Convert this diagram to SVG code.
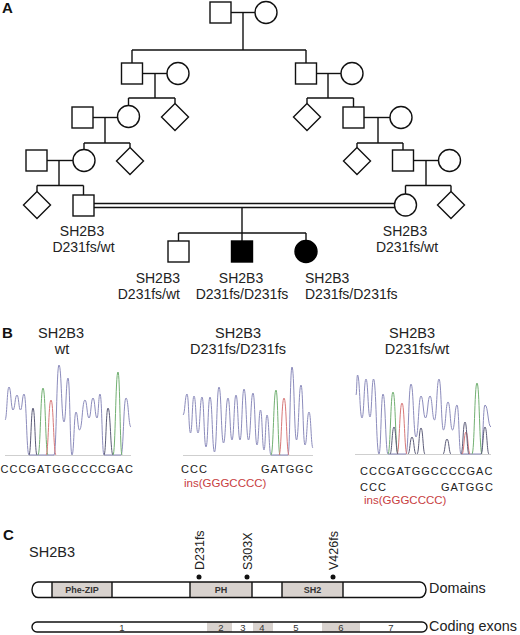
<svg xmlns="http://www.w3.org/2000/svg" width="520" height="635" viewBox="0 0 520 635">
<style>
.ln{stroke:#111;stroke-width:1.4;fill:none}
.sym{fill:#fff;stroke:#111;stroke-width:1.4}
.aff{fill:#000;stroke:#000;stroke-width:1.4}
.t{font-family:"Liberation Sans",Arial,sans-serif;fill:#222}
.lab{font-size:14px}
.labB{font-size:14.5px}
.lbl{font-size:14.4px}
.hd{font-size:15px;font-weight:bold;fill:#111}
.seq{font-size:11px;letter-spacing:1px}
.ins{font-size:11.5px;fill:#c8403f}
.dom{font-size:9px;font-weight:bold;fill:#333;text-anchor:middle}
.ex{font-size:9.5px;fill:#333;text-anchor:middle}
.mut{font-size:12.5px}
.tr{fill:none;stroke-width:1}
.blue{stroke:#8c8cbc}
.green{stroke:#72b072}
.red{stroke:#d87878}
.dark{stroke:#5c5c78}
.base{stroke:#cfcfcf;stroke-width:1;fill:none}
.gfill{fill:#d8d2ce}
</style>

<!-- Panel labels -->
<text class="t hd" x="2" y="13">A</text>
<text class="t hd" x="2" y="338">B</text>
<text class="t hd" x="3" y="540">C</text>

<!-- Connectors -->
<g id="connectors" class="ln">
  <line x1="231" y1="12.5" x2="255" y2="12.5"/>
  <line x1="243" y1="12.5" x2="243" y2="50"/>
  <line x1="132" y1="50" x2="306" y2="50"/>
  <line x1="132" y1="50" x2="132" y2="63"/>
  <line x1="306" y1="50" x2="306" y2="63"/>
  <line x1="142.5" y1="73.5" x2="167" y2="73.5"/>
  <line x1="155" y1="73.5" x2="155" y2="98"/>
  <line x1="128.5" y1="98" x2="175" y2="98"/>
  <line x1="128.5" y1="98" x2="128.5" y2="105.5"/>
  <line x1="175" y1="98" x2="175" y2="103.5"/>
  <line x1="93" y1="117.5" x2="117.5" y2="117.5"/>
  <line x1="105" y1="117.5" x2="105" y2="143"/>
  <line x1="84" y1="143" x2="130" y2="143"/>
  <line x1="84" y1="143" x2="84" y2="149.5"/>
  <line x1="130" y1="143" x2="130" y2="147.5"/>
  <line x1="47" y1="160.5" x2="73" y2="160.5"/>
  <line x1="59" y1="160.5" x2="59" y2="185.5"/>
  <line x1="37" y1="185.5" x2="83.5" y2="185.5"/>
  <line x1="37" y1="185.5" x2="37" y2="191.5"/>
  <line x1="83.5" y1="185.5" x2="83.5" y2="195"/>
  <line x1="316.5" y1="73.5" x2="341" y2="73.5"/>
  <line x1="328" y1="73.5" x2="328" y2="98"/>
  <line x1="307" y1="98" x2="353.5" y2="98"/>
  <line x1="307" y1="98" x2="307" y2="103.5"/>
  <line x1="353.5" y1="98" x2="353.5" y2="107"/>
  <line x1="364" y1="117.5" x2="390" y2="117.5"/>
  <line x1="378" y1="117.5" x2="378" y2="143"/>
  <line x1="357" y1="143" x2="403" y2="143"/>
  <line x1="357" y1="143" x2="357" y2="147.5"/>
  <line x1="403" y1="143" x2="403" y2="150"/>
  <line x1="413.5" y1="160.5" x2="438.5" y2="160.5"/>
  <line x1="426" y1="160.5" x2="426" y2="185.5"/>
  <line x1="405.5" y1="185.5" x2="451" y2="185.5"/>
  <line x1="405.5" y1="185.5" x2="405.5" y2="194"/>
  <line x1="451" y1="185.5" x2="451" y2="191.5"/>
  <line x1="94" y1="203.5" x2="395" y2="203.5"/>
  <line x1="94" y1="207.5" x2="395" y2="207.5"/>
  <line x1="242" y1="207.5" x2="242" y2="241"/>
  <line x1="178.5" y1="233" x2="306" y2="233"/>
  <line x1="178.5" y1="233" x2="178.5" y2="241"/>
  <line x1="306" y1="233" x2="306" y2="240.5"/>
</g>

<!-- Pedigree nodes -->
<g id="I-1"><rect class="sym" x="210" y="2" width="21" height="21"/></g>
<g id="I-2"><circle class="sym" cx="266" cy="12.5" r="11"/></g>

<g id="II-1"><rect class="sym" x="121.5" y="63" width="21" height="21"/></g>
<g id="II-2"><circle class="sym" cx="178" cy="73.5" r="11"/></g>
<g id="II-3"><rect class="sym" x="295.5" y="63" width="21" height="21"/></g>
<g id="II-4"><circle class="sym" cx="352" cy="73.5" r="11"/></g>

<g id="III-1"><rect class="sym" x="72" y="107" width="21" height="21"/></g>
<g id="III-2"><circle class="sym" cx="128.5" cy="116.5" r="11"/></g>
<g id="III-3"><polygon class="sym" points="175,103.5 188.5,117 175,130.5 161.5,117"/></g>
<g id="III-4"><polygon class="sym" points="307,103.5 320.5,117 307,130.5 293.5,117"/></g>
<g id="III-5"><rect class="sym" x="343" y="107" width="21" height="21"/></g>
<g id="III-6"><circle class="sym" cx="401" cy="117.5" r="11"/></g>

<g id="IV-1"><rect class="sym" x="26" y="150" width="21" height="21"/></g>
<g id="IV-2"><circle class="sym" cx="84" cy="160.5" r="11"/></g>
<g id="IV-3"><polygon class="sym" points="130,147.5 143.5,161 130,174.5 116.5,161"/></g>
<g id="IV-4"><polygon class="sym" points="357,147.5 370.5,161 357,174.5 343.5,161"/></g>
<g id="IV-5"><rect class="sym" x="392.5" y="150" width="21" height="21"/></g>
<g id="IV-6"><circle class="sym" cx="449.5" cy="160.5" r="11"/></g>

<g id="V-1"><polygon class="sym" points="37,191.5 50.5,205 37,218.5 23.5,205"/></g>
<g id="V-2">
  <rect class="sym" x="73" y="195" width="21" height="21"/>
  <text class="t lab" x="82" y="236" text-anchor="middle">SH2B3</text>
  <text class="t lab" x="83.5" y="251.5" text-anchor="middle">D231fs/wt</text>
</g>
<g id="V-3">
  <circle class="sym" cx="405.5" cy="205" r="11"/>
  <text class="t lab" x="405" y="236" text-anchor="middle">SH2B3</text>
  <text class="t lab" x="407" y="251.5" text-anchor="middle">D231fs/wt</text>
</g>
<g id="V-4"><polygon class="sym" points="451,191.5 464.5,205 451,218.5 437.5,205"/></g>

<g id="VI-1">
  <rect class="sym" x="168" y="241" width="21" height="21"/>
  <text class="t lab" x="180" y="283" text-anchor="end">SH2B3</text>
  <text class="t lab" x="180" y="298.5" text-anchor="end">D231fs/wt</text>
</g>
<g id="VI-2">
  <rect class="aff" x="231.5" y="241" width="21" height="21"/>
  <text class="t lab" x="241" y="283" text-anchor="middle">SH2B3</text>
  <text class="t lab" x="242" y="298.5" text-anchor="middle">D231fs/D231fs</text>
</g>
<g id="VI-3">
  <circle class="aff" cx="306" cy="251.5" r="11"/>
  <text class="t lab" x="305" y="283">SH2B3</text>
  <text class="t lab" x="305" y="298.5">D231fs/D231fs</text>
</g>

<!-- Panel B -->
<g id="chrom-wt">
  <text class="t labB" x="61" y="338" text-anchor="middle">SH2B3</text>
  <text class="t labB" x="62" y="354" text-anchor="middle">wt</text>
  <path class="base" d="M5,455.5 H131"/>
  <path class="tr blue" d="M5,420 C7,420 7,387 9,387 C11,387 11,410 13,410 C15,410 15,395 17,395 C18.75,395 18.75,410 20.5,410 C22.25,410 22.25,394 24,394 C26.5,394 26.5,455 29,455 L54,455 C56.5,455 56.5,365 59,365 C61.5,365 61.5,422 64,422 C66,422 66,378 68,378 C70,378 70,455 72,455 C74,455 74,412 76,412 C77.75,412 77.75,430 79.5,430 C82.25,430 82.25,400 85,400 C87,400 87,418 89,418 C91,418 91,398 93,398 C95,398 95,418 97,418 C98.5,418 98.5,394 100,394 C102,394 102,455 104,455 L121,455 C123.5,455 123.5,398 126,398 C128.5,398 128.5,427 131,427"/>
  <path class="tr dark" d="M29,455 C31,455 31,408 33,408 C35,408 35,455 37,455 M104,455 C106,455 106,408 108,408 C110.5,408 110.5,455 113,455"/>
  <path class="tr green" d="M38,455 C40.5,455 40.5,388 43,388 C45.5,388 45.5,455 48,455 M113,455 C115.5,455 115.5,372 118,372 C120,372 120,455 122,455"/>
  <path class="tr red" d="M46,455 C48.5,455 48.5,400 51,400 C53.5,400 53.5,455 56,455"/>
  <text class="t seq" x="0.5" y="473">CCCGATGGCCCCGAC</text>
</g>

<g id="chrom-hom">
  <text class="t labB" x="238" y="338" text-anchor="middle">SH2B3</text>
  <text class="t labB" x="238" y="354" text-anchor="middle">D231fs/D231fs</text>
  <path class="base" d="M183,455.5 H313"/>
  <path class="tr blue" d="M183,415 C185,415 185,394 187,394 C188.75,394 188.75,433 190.5,433 C192.25,433 192.25,396 194,396 C196,396 196,433 198,433 C200,433 200,397 202,397 C204,397 204,447 206,447 C208,447 208,397 210,397 C212.25,397 212.25,452 214.5,452 C216.75,452 216.75,387 219,387 C221.25,387 221.25,443 223.5,443 C225.75,443 225.75,398 228,398 C230,398 230,440 232,440 C234,440 234,395 236,395 C238,395 238,440 240,440 C242,440 242,389 244,389 C246.25,389 246.25,440 248.5,440 C250.75,440 250.75,393 253,393 C255,393 255,445 257,445 C258.75,445 258.75,410 260.5,410 C262.25,410 262.25,450 264,450 C265.5,450 265.5,415 267,415 C269,415 269,455 271,455 L288,455 C290,455 290,367 292,367 C294.25,367 294.25,440 296.5,440 C298.75,440 298.75,385 301,385 C303,385 303,445 305,445 C307,445 307,412 309,412 C311,412 311,448 313,448"/>
  <path class="tr green" d="M271,455 C273.5,455 273.5,390 276,390 C278,390 278,455 280,455"/>
  <path class="tr red" d="M279,455 C281.5,455 281.5,398 284,398 C286.5,398 286.5,455 289,455"/>
  <text class="t seq" x="181" y="473">CCC</text>
  <text class="t seq" x="261" y="473">GATGGC</text>
  <text class="t ins" x="184" y="487">ins(GGGCCCC)</text>
</g>

<g id="chrom-het">
  <text class="t labB" x="412" y="338" text-anchor="middle">SH2B3</text>
  <text class="t labB" x="417" y="354" text-anchor="middle">D231fs/wt</text>
  <path class="base" d="M355,454.5 H491"/>
  <path class="tr blue" d="M356,395 C356.75,395 356.75,375 357.5,375 C359.75,375 359.75,418 362,418 C364,418 364,379 366,379 C368,379 368,417 370,417 C371.75,417 371.75,379 373.5,379 C376.25,379 376.25,454 379,454 C381,454 381,394 383,394 C385.5,394 385.5,454 388,454 L406,454 C408.5,454 408.5,384 411,384 C413.5,384 413.5,437 416,437 C418.5,437 418.5,396 421,396 C423.25,396 423.25,418 425.5,418 C427.75,418 427.75,396 430,396 C432.25,396 432.25,420 434.5,420 C436.75,420 436.75,379 439,379 C441.25,379 441.25,430 443.5,430 C445.75,430 445.75,402 448,402 C450.25,402 450.25,430 452.5,430 C454.75,430 454.75,405 457,405 C459,405 459,454 461,454 L481,454 C483,454 483,405 485,405 C488,405 488,427 491,427"/>
  <path class="tr green" d="M388,454 C390.5,454 390.5,392 393,392 C395.5,392 395.5,454 398,454 M472,454 C474.5,454 474.5,383 477,383 C479.5,383 479.5,454 482,454"/>
  <path class="tr red" d="M397,454 C399.5,454 399.5,403 402,403 C404.5,403 404.5,454 407,454 M462,454 C464,454 464,432 466,432 C468,432 468,454 470,454"/>
  <path class="tr dark" d="M390,454 C392,454 392,427 394,427 C396,427 396,454 398,454 M408,454 C410,454 410,437 412,437 C414,437 414,454 416,454 M417,454 C419,454 419,428 421,428 C423,428 423,454 425,454 M443,454 C445,454 445,439 447,439 C449,439 449,454 451,454 M461,454 C463,454 463,422 465,422 C467,422 467,454 469,454 M481,454 C483,454 483,427 485,427 C487,427 487,454 489,454"/>
  <text class="t seq" x="360" y="475">CCCGATGGCCCCGAC</text>
  <text class="t seq" x="360" y="491">CCC</text>
  <text class="t seq" x="441" y="491">GATGGC</text>
  <text class="t ins" x="364" y="504">ins(GGGCCCC)</text>
</g>

<!-- Panel C -->
<text class="t labB" x="29" y="557">SH2B3</text>

<g id="domains">
  <rect x="52" y="582" width="60" height="15.5" class="gfill"/>
  <rect x="190" y="582" width="62" height="15.5" class="gfill"/>
  <rect x="282" y="582" width="61" height="15.5" class="gfill"/>
  <rect x="32" y="582" width="394" height="15.5" rx="6" ry="7.75" class="ln"/>
  <path class="ln" d="M52,582 V597.5 M112,582 V597.5 M190,582 V597.5 M252,582 V597.5 M282,582 V597.5 M343,582 V597.5"/>
  <text class="t dom" x="82" y="593">Phe-ZIP</text>
  <text class="t dom" x="221" y="593">PH</text>
  <text class="t dom" x="312.5" y="593">SH2</text>
  <text class="t lbl" x="429" y="593">Domains</text>
</g>

<g id="mutations">
  <circle cx="199" cy="577" r="2.5" fill="#111"/>
  <circle cx="247" cy="577" r="2.5" fill="#111"/>
  <circle cx="333" cy="577" r="2.5" fill="#111"/>
  <text class="t mut" transform="translate(204,570) rotate(-90)">D231fs</text>
  <text class="t mut" transform="translate(252,570) rotate(-90)">S303X</text>
  <text class="t mut" transform="translate(337.5,570) rotate(-90)">V426fs</text>
</g>

<g id="exons">
  <rect x="207" y="622" width="25" height="10" class="gfill"/>
  <rect x="253" y="622" width="20" height="10" class="gfill"/>
  <rect x="322" y="622" width="38" height="10" class="gfill"/>
  <rect x="32" y="622" width="395" height="10" rx="5" ry="5" class="ln"/>
  <text class="t ex" x="122" y="630.5">1</text>
  <text class="t ex" x="221" y="630.5">2</text>
  <text class="t ex" x="243" y="630.5">3</text>
  <text class="t ex" x="262" y="630.5">4</text>
  <text class="t ex" x="296" y="630.5">5</text>
  <text class="t ex" x="341" y="630.5">6</text>
  <text class="t ex" x="391" y="630.5">7</text>
  <text class="t lbl" x="429" y="631">Coding exons</text>
</g>
</svg>
